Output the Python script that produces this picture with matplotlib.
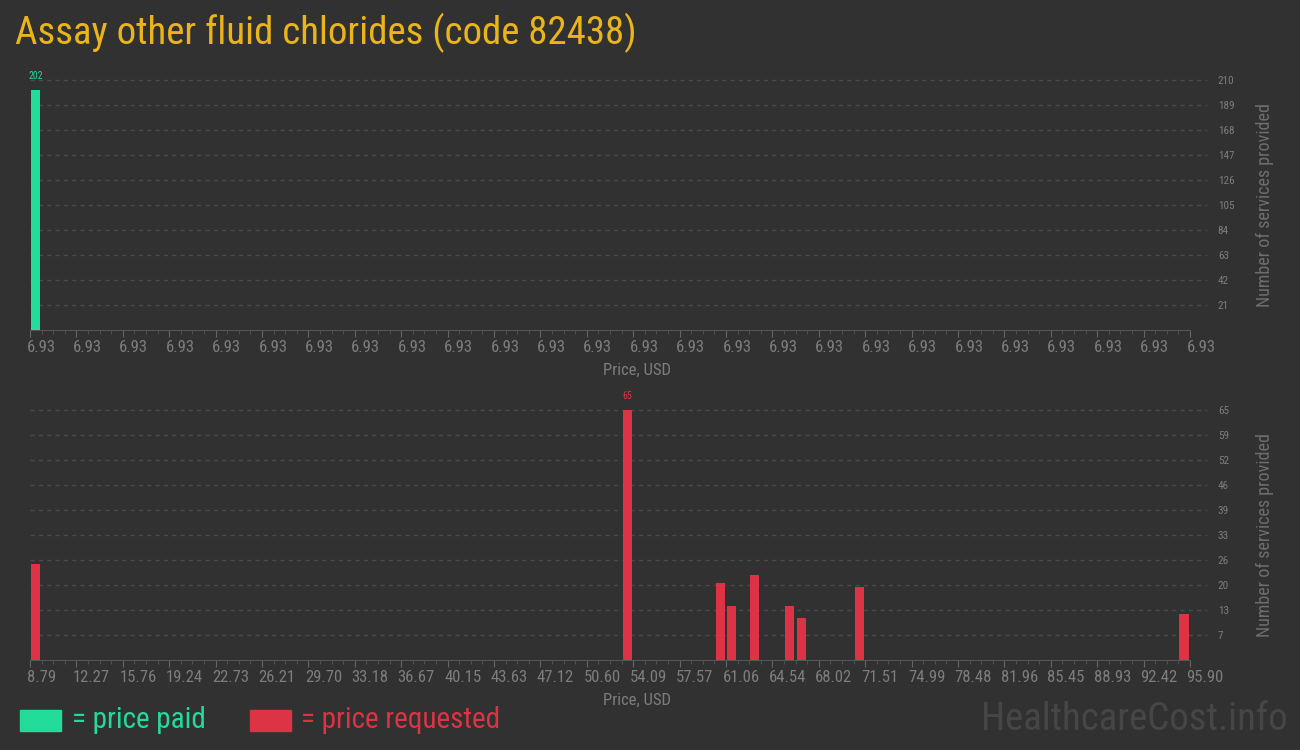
import matplotlib
matplotlib.use('Agg')
import matplotlib.pyplot as plt
import matplotlib.transforms as mtransforms
from matplotlib import font_manager
from matplotlib.patches import Rectangle

# chart data
title = 'Assay other fluid chlorides (code 82438)'

paid_prices = [6.93]
paid_counts = [202]
paid_yticks = [21, 42, 63, 84, 105, 126, 147, 168, 189, 210]
paid_xtick_labels = ['6.93'] * 26

req_prices = [8.79, 53.22, 60.19, 61.06, 62.80, 65.41, 66.28, 70.64, 95.03]
req_counts = [25, 65, 20, 14, 22, 14, 11, 19, 12]
req_yticks = [6.5, 13, 19.5, 26, 32.5, 39, 45.5, 52, 58.5, 65]
req_ytick_labels = ['7', '13', '20', '26', '33', '39', '46', '52', '59', '65']
req_xtick_labels = ['8.79', '12.27', '15.76', '19.24', '22.73', '26.21', '29.70',
                    '33.18', '36.67', '40.15', '43.63', '47.12', '50.60', '54.09',
                    '57.57', '61.06', '64.54', '68.02', '71.51', '74.99', '78.48',
                    '81.96', '85.45', '88.93', '92.42', '95.90']

BG = '#313131'
GREEN = '#22dd99'
RED = '#dd3344'
GOLD = '#eab51a'
TICK = '#7d7d7d'
GRID = '#4a4a4a'

installed = {f.name for f in font_manager.fontManager.ttflist}


def pick(cands):
    for c in cands:
        if c in installed:
            return c
    return 'DejaVu Sans'


narrow = pick(['Roboto Condensed', 'Liberation Sans Narrow', 'Roboto', 'DejaVu Sans'])
main_font = pick(['Roboto Condensed', 'Roboto', 'DejaVu Sans'])

fig = plt.figure(figsize=(13, 7.5), dpi=100, facecolor=BG)


def draw_panel(ax, xlo, xhi, prices, counts, color, ytop, yticks, ylabels,
               xlabels, peak_label):
    ax.set_facecolor(BG)
    ax.set_xlim(xlo, xhi)
    ax.set_ylim(0, ytop)
    binw = (xhi - xlo) / 100.0
    gap = binw * 0.09
    ax.bar([p + gap for p in prices], counts, width=binw * 0.78, align='edge',
           color=color, zorder=3)
    # value label over the tallest bar
    i = counts.index(max(counts))
    ax.text(prices[i] + gap + binw * 0.39, counts[i] + ytop * 0.035, peak_label,
            color=color, fontsize=7, ha='center', va='bottom', family=narrow)

    for s in ['top', 'left', 'right']:
        ax.spines[s].set_visible(False)
    ax.spines['bottom'].set_color('#555555')

    # dashed gridlines running out to the right-hand labels
    tr = mtransforms.blended_transform_factory(ax.transAxes, ax.transData)
    for yv in yticks:
        ax.plot([0, 1.0145], [yv, yv], transform=tr, color=GRID, lw=1,
                ls=(0, (3, 3)), clip_on=False, zorder=1)
    ax.yaxis.tick_right()
    ax.set_yticks(yticks)
    ax.set_yticklabels(ylabels)
    ax.tick_params(axis='y', length=0, pad=20, labelsize=8, labelcolor=TICK)
    for lab in ax.get_yticklabels():
        lab.set_family(narrow)

    major = [xlo + k * (xhi - xlo) / 25.0 for k in range(26)]
    minor = [xlo + k * (xhi - xlo) / 100.0 for k in range(101)]
    ax.set_xticks(major)
    ax.set_xticks(minor, minor=True)
    ax.set_xticklabels(xlabels)
    ax.tick_params(axis='x', which='major', length=5, color='#666666',
                   labelsize=12, labelcolor=TICK, pad=2)
    ax.tick_params(axis='x', which='minor', length=3, color='#555555')
    off = mtransforms.ScaledTranslation(-3.5 / 100, 0, fig.dpi_scale_trans)
    for lab in ax.get_xticklabels():
        lab.set_family(narrow)
        lab.set_horizontalalignment('left')
        lab.set_transform(lab.get_transform() + off)

    ax.text(0.5233, -0.13, 'Price, USD', transform=ax.transAxes, ha='center',
            va='top', color=TICK, fontsize=12, family=main_font)
    ax.text(1.0647, 0.5, 'Number of services provided', transform=ax.transAxes,
            rotation=90, ha='center', va='center', color='#6e6e6e',
            fontsize=13, family=main_font)


ax1 = fig.add_axes([30 / 1300, 420 / 750, 1160 / 1300, 250 / 750])
draw_panel(ax1, 6.93, 7.93, paid_prices, paid_counts, GREEN, 210,
           paid_yticks, [str(v) for v in paid_yticks], paid_xtick_labels,
           str(paid_counts[0]))

ax2 = fig.add_axes([30 / 1300, 90 / 750, 1160 / 1300, 250 / 750])
draw_panel(ax2, 8.79, 95.90, req_prices, req_counts, RED, 65,
           req_yticks, req_ytick_labels, req_xtick_labels, str(max(req_counts)))

fig.text(15 / 1300, 1 - 33 / 750, title, color=GOLD, fontsize=28,
         family=main_font, ha='left', va='center')

# legend
fig.patches.append(Rectangle((20 / 1300, 1 - 731 / 750), 41 / 1300, 21 / 750,
                             transform=fig.transFigure, color=GREEN))
fig.text(72 / 1300, 1 - 720 / 750, '= price paid', color=GREEN, fontsize=21,
         family=main_font, ha='left', va='center')
fig.patches.append(Rectangle((250 / 1300, 1 - 731 / 750), 41 / 1300, 21 / 750,
                             transform=fig.transFigure, color=RED))
fig.text(301 / 1300, 1 - 720 / 750, '= price requested', color=RED, fontsize=21,
         family=main_font, ha='left', va='center')

fig.text(1288 / 1300, 1 - 720 / 750, 'HealthcareCost.info', color='#464646',
         fontsize=28, family=main_font, ha='right', va='center')

fig.savefig('out.png', dpi=100, facecolor=BG)
